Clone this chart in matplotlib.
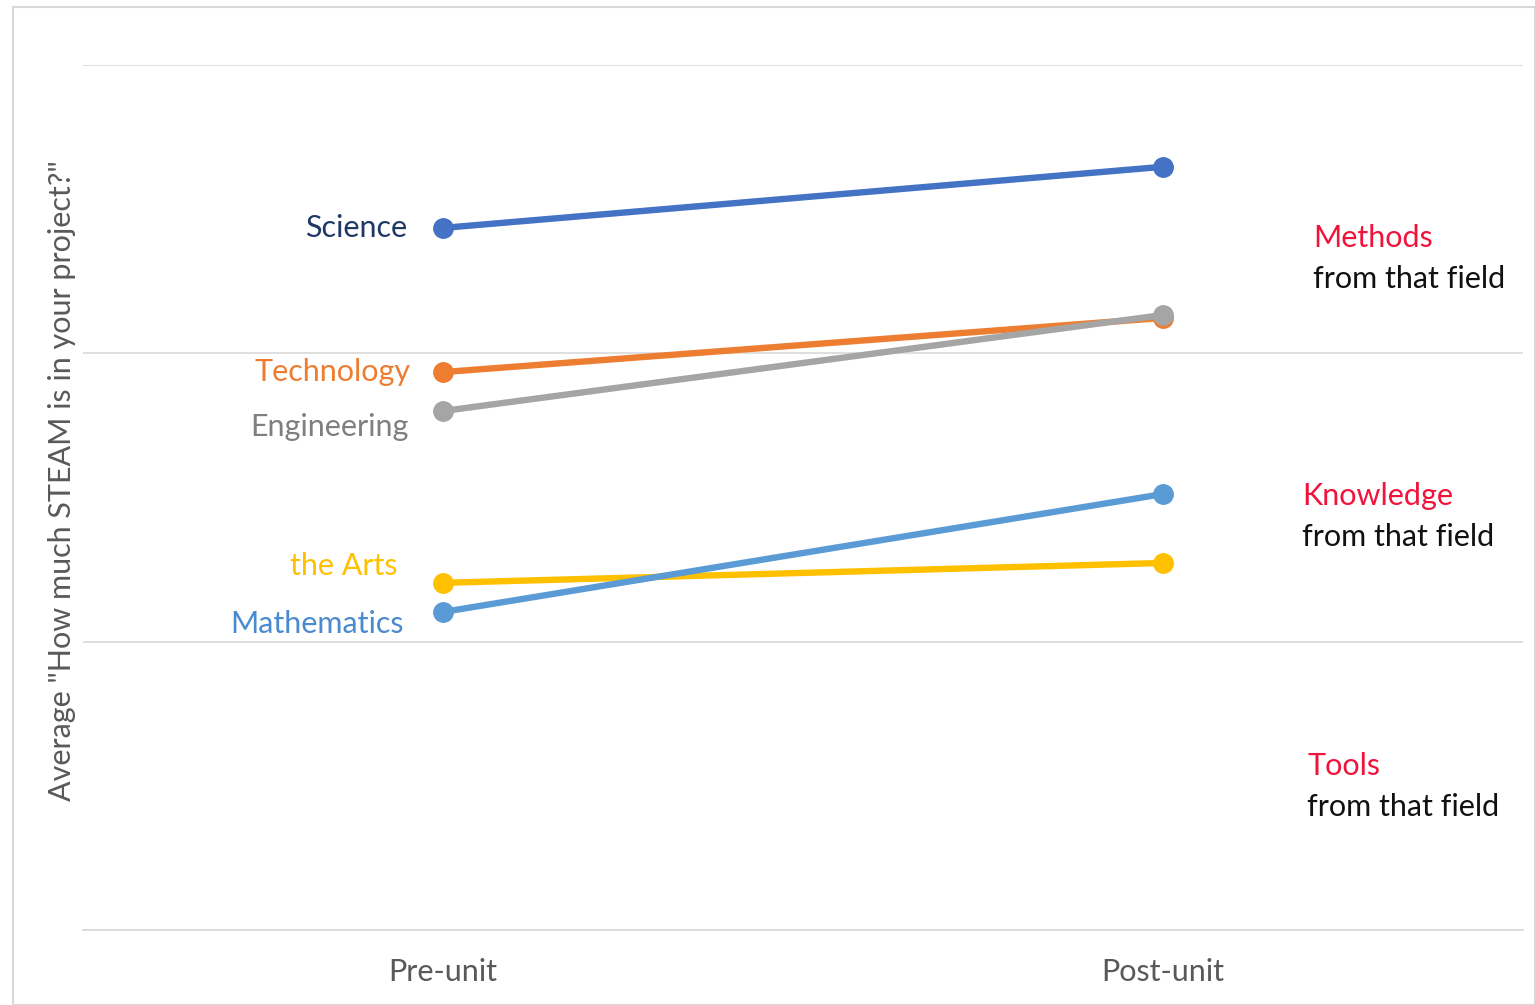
import matplotlib.pyplot as plt
from matplotlib.patches import Rectangle

plt.rcParams['font.family'] = ['Lato', 'DejaVu Sans']

# Data (y in grid units, gridlines at 0..3)
stages = ['Pre-unit', 'Post-unit']
fields = ['Science', 'Technology', 'Engineering', 'the Arts', 'Mathematics']
pre = [2.435, 1.935, 1.800, 1.204, 1.103]
post = [2.647, 2.123, 2.133, 1.273, 1.512]
line_colors = ['#4472C4', '#ED7D31', '#A5A5A5', '#FFC000', '#5B9BD5']
label_colors = ['#1F3864', '#ED7D31', '#7F7F7F', '#FFC000', '#4A8AD0']
# label offsets in pixels from the pre-unit point
label_offsets = [(-36, 0), (-32, 0), (-34, -16), (-45, 17), (-39, -12)]

levels = ['Methods', 'Knowledge', 'Tools']
level_pos = [(1313, 238), (1302, 496), (1307, 766)]  # pixel positions

W, H = 1535, 1005
fs = 22
fig = plt.figure(figsize=(W / 100, H / 100), dpi=100)
ax = fig.add_axes([83 / W, 75 / H, 1440 / W, 865 / H])

for i, name in enumerate(fields):
    ax.plot([0, 1], [pre[i], post[i]], color=line_colors[i], lw=4.6,
            marker='o', markersize=14, solid_capstyle='round')
    ax.annotate(name, xy=(0, pre[i]), xytext=label_offsets[i],
                textcoords='offset pixels', ha='right', va='center',
                fontsize=fs, color=label_colors[i])

ax.set_xlim(-0.5, 1.5)
ax.set_ylim(0, 3)
ax.set_yticks([0, 1, 2, 3])
ax.set_yticklabels([])
ax.tick_params(axis='y', length=0)
ax.set_xticks([0, 1])
ax.set_xticklabels(stages, fontsize=fs, color='#595959')
ax.tick_params(axis='x', length=0, pad=20)
ax.grid(axis='y', color='#D9D9D9', lw=1.2)
ax.set_axisbelow(True)
for s in ['top', 'right', 'left']:
    ax.spines[s].set_visible(False)
ax.spines['bottom'].set_color('#D9D9D9')
ax.spines['bottom'].set_linewidth(1.2)

ax.set_ylabel('Average "How much STEAM is in your project?"', fontsize=fs,
              color='#595959')
ax.yaxis.set_label_coords(-7 / 1440, 0.52)

for name, (px, py) in zip(levels, level_pos):
    fig.text(px / W, 1 - py / H, name, color='#F0143C', fontsize=fs,
             ha='left', va='center')
    fig.text(px / W, 1 - (py + 41) / H, 'from that field', color='#111111',
             fontsize=fs, ha='left', va='center')

fig.patches.append(Rectangle((13 / W, 0), 1 - 13 / W, 1 - 7 / H,
                             transform=fig.transFigure, fill=False,
                             edgecolor='#D9D9D9', lw=1.5))

fig.savefig('out.png', dpi=100)
